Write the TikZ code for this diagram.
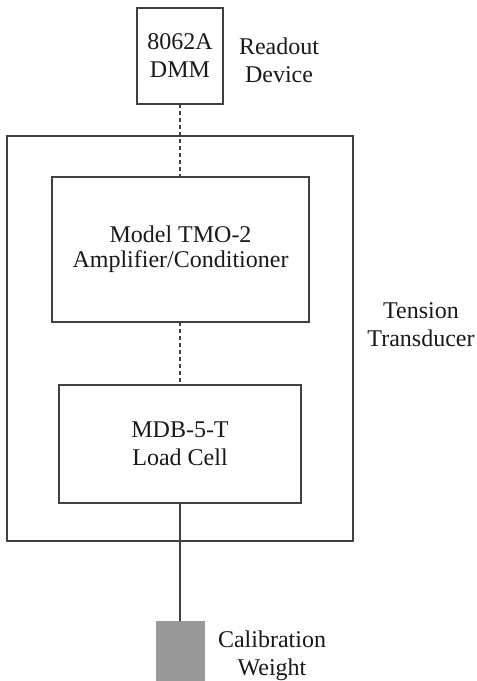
\documentclass[tikz,border=0pt]{standalone}
\usepackage{fontspec}
\setmainfont{Liberation Serif}
\definecolor{lc}{HTML}{404040}
\definecolor{wt}{HTML}{999999}
\begin{document}
\begin{tikzpicture}[x=0.5pt,y=-0.5pt,line width=0.75pt,
  txt/.style={font=\fontsize{12}{14}\selectfont, text=black!90},
  box/.style={draw=lc, rectangle, inner sep=0pt, outer sep=0pt, align=center, txt},
  lab/.style={align=center, inner sep=0pt, txt},
  dashline/.style={draw=lc, dash pattern=on 2pt off 1.5pt},
  solidline/.style={draw=lc}]
\useasboundingbox (0,0) rectangle (477,681);
% outer frame (tension transducer)
\node[box, minimum width=173pt, minimum height=202.5pt] (outer) at (180,338.5) {};
% boxes
\node[box, minimum width=43pt, minimum height=48pt] (dmm) at (180,56) {8062A\\DMM};
\node[box, minimum width=128.5pt, minimum height=72.5pt] (amp) at (180.5,249.5) {\raisebox{-2pt}{\shortstack{Model TMO-2\\[1pt]Amplifier/Conditioner}}};
\node[box, minimum width=121pt, minimum height=59pt] (cell) at (180,444) {MDB-5-T\\Load Cell};
\node[draw=none, fill=wt, rectangle, inner sep=0pt, outer sep=0pt, minimum width=24.5pt, minimum height=31pt] (weight) at (180.5,652) {};
% labels
\node[lab] (readout) at (279,60) {Readout\\Device};
\node[lab] (tension) at (421,325) {Tension\\Transducer};
\node[lab] (calib) at (272,656) {Calibration\\Weight};
% connectors
\draw[dashline] (dmm.south) -- (dmm.south |- amp.north);
\draw[dashline] (dmm.south |- amp.south) -- (dmm.south |- cell.north);
\draw[solidline] (cell.south) -- (cell.south |- weight.north);
\end{tikzpicture}
\end{document}
